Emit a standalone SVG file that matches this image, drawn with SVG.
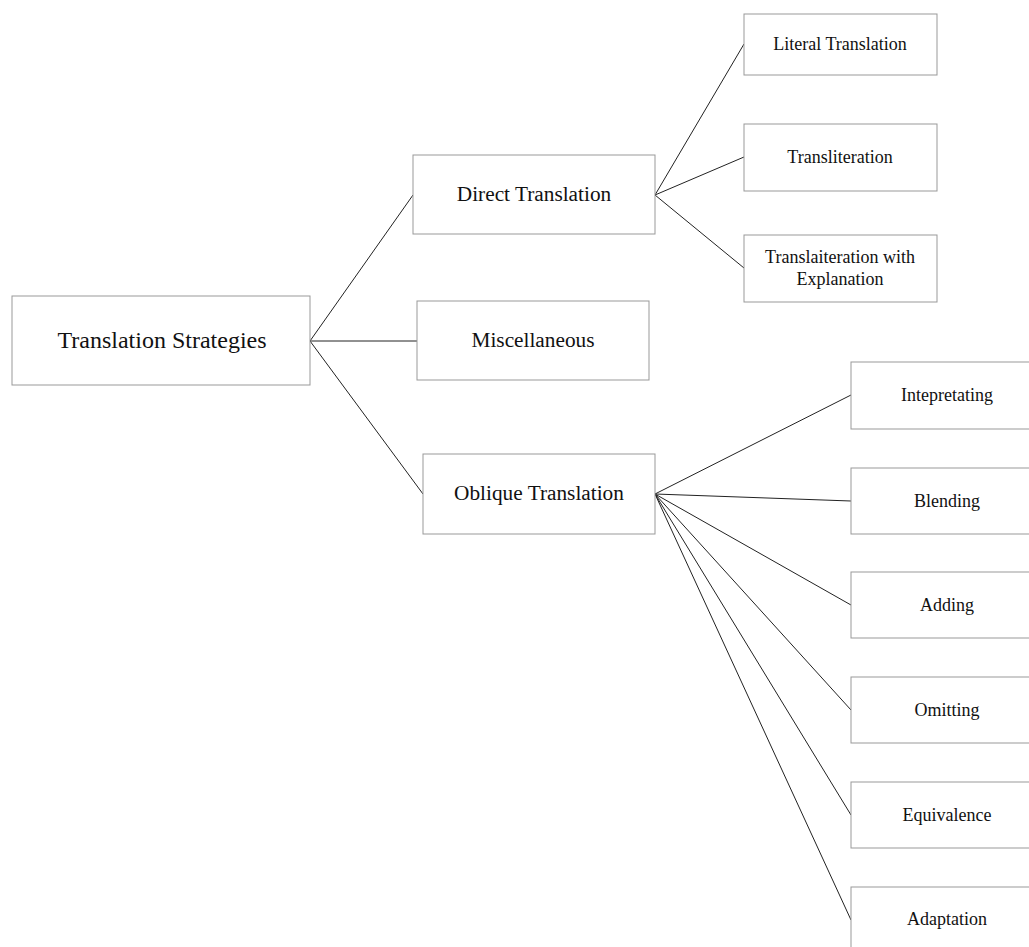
<svg xmlns="http://www.w3.org/2000/svg" width="1029" height="947" viewBox="0 0 1029 947">
<style>
.box{fill:#fff;stroke:#999;stroke-width:1}
.t{font-family:"Liberation Serif","Times New Roman",serif;fill:#111;text-anchor:middle;dominant-baseline:central}
.l{font-size:24px}.m{font-size:21.3px}.s{font-size:18px}
.c line{stroke:#222;stroke-width:1}
</style>
<rect width="1029" height="947" fill="#fff"/>
<g class="c" id="connectors">
<line x1="310" y1="341" x2="413" y2="195"/>
<line x1="310" y1="341" x2="417" y2="341"/>
<line x1="310" y1="341" x2="423" y2="494"/>
<line x1="655" y1="195" x2="744" y2="44"/>
<line x1="655" y1="195" x2="744" y2="157"/>
<line x1="655" y1="195" x2="744" y2="268"/>
<line x1="655" y1="494" x2="851" y2="395"/>
<line x1="655" y1="494" x2="851" y2="501"/>
<line x1="655" y1="494" x2="851" y2="605"/>
<line x1="655" y1="494" x2="851" y2="710"/>
<line x1="655" y1="494" x2="851" y2="815"/>
<line x1="655" y1="494" x2="851" y2="920"/>
</g>
<g id="root"><rect class="box" x="12" y="296" width="298" height="89"/><text class="t l" x="162" y="340">Translation Strategies</text></g>
<g id="direct"><rect class="box" x="413" y="155" width="242" height="79"/><text class="t m" x="534" y="194">Direct Translation</text></g>
<g id="misc"><rect class="box" x="417" y="301" width="232" height="79"/><text class="t m" x="533" y="340">Miscellaneous</text></g>
<g id="oblique"><rect class="box" x="423" y="454" width="232" height="80"/><text class="t m" x="539" y="493">Oblique Translation</text></g>
<g id="literal"><rect class="box" x="744" y="14" width="193" height="61"/><text class="t s" x="840" y="44">Literal Translation</text></g>
<g id="transliteration"><rect class="box" x="744" y="124" width="193" height="67"/><text class="t s" x="840" y="157">Transliteration</text></g>
<g id="translaiteration"><rect class="box" x="744" y="235" width="193" height="67"/><text class="t s" x="840" y="257">Translaiteration with</text><text class="t s" x="840" y="279">Explanation</text></g>
<g id="intepretating"><rect class="box" x="851" y="362" width="195" height="67"/><text class="t s" x="947" y="395">Intepretating</text></g>
<g id="blending"><rect class="box" x="851" y="468" width="195" height="66"/><text class="t s" x="947" y="501">Blending</text></g>
<g id="adding"><rect class="box" x="851" y="572" width="195" height="66"/><text class="t s" x="947" y="605">Adding</text></g>
<g id="omitting"><rect class="box" x="851" y="677" width="195" height="66"/><text class="t s" x="947" y="710">Omitting</text></g>
<g id="equivalence"><rect class="box" x="851" y="782" width="195" height="66"/><text class="t s" x="947" y="815">Equivalence</text></g>
<g id="adaptation"><rect class="box" x="851" y="887" width="195" height="66"/><text class="t s" x="947" y="919">Adaptation</text></g>
</svg>
